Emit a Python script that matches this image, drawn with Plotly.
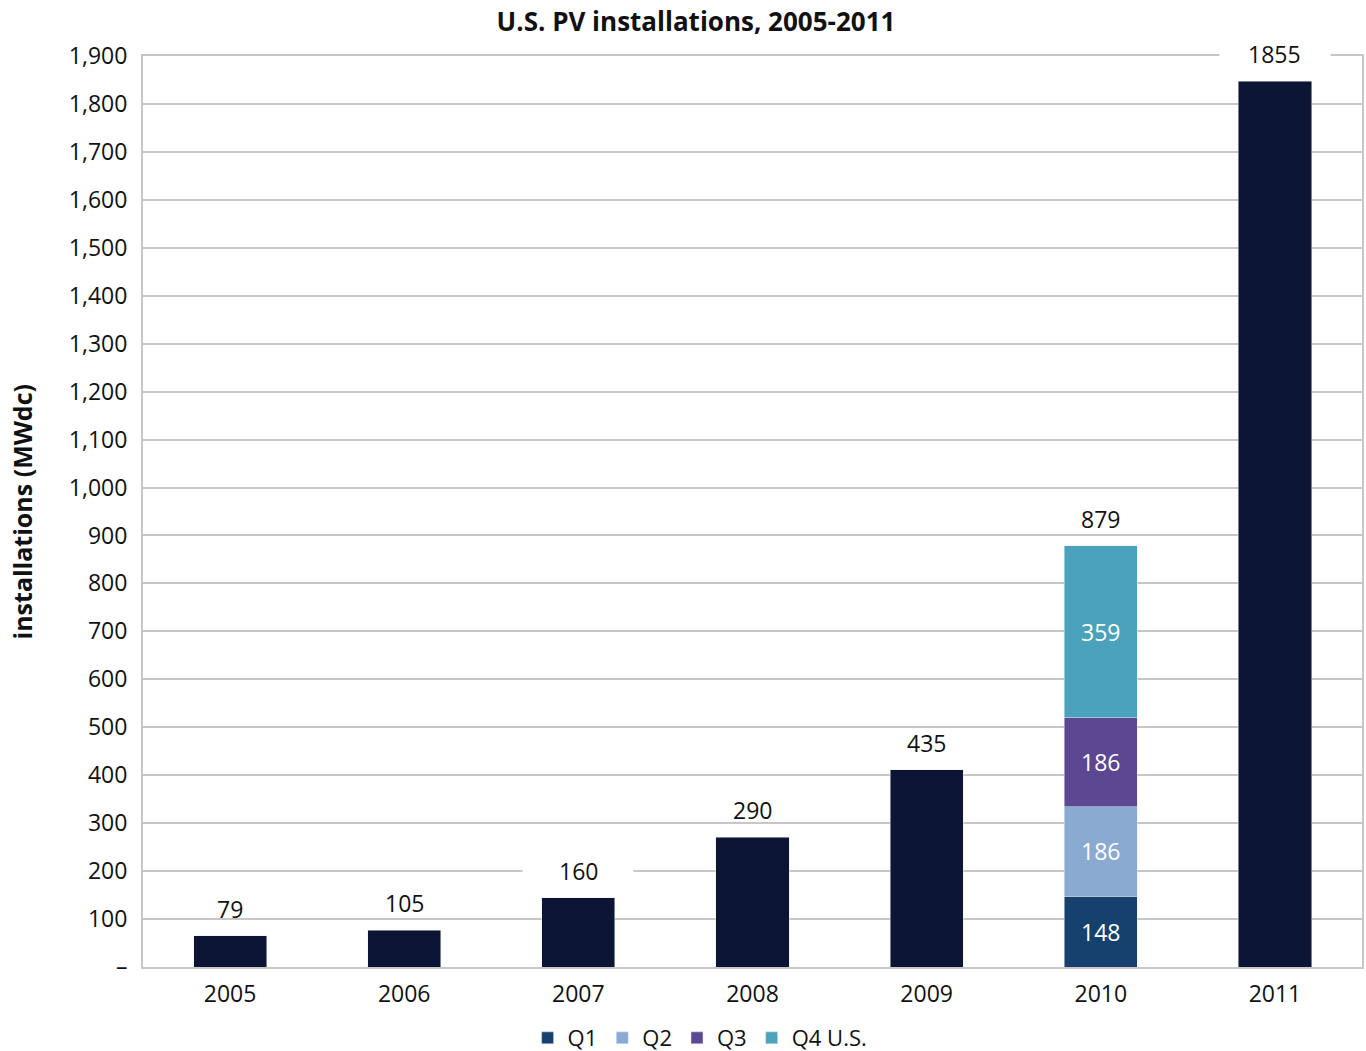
import plotly.graph_objects as go

# ---- data ----
years = ["2005", "2006", "2007", "2008", "2009", "2010", "2011"]
annual_bar = [65, 77, 144, 271, 411, None, 1847]          # bar heights as drawn
annual_labels = ["79", "105", "160", "290", "435", "879", "1855"]  # printed totals
quarter_names = ["Q1", "Q2", "Q3", "Q4 U.S."]
quarters_2010 = [148, 186, 186, 359]
quarter_colors = ["#16416f", "#8aaad2", "#5c4792", "#4aa3bb"]
annual_color = "#0d1535"
y_tickvals = list(range(0, 2000, 100))
y_ticktext = ["–"] + [f"{v:,}" for v in range(100, 2000, 100)]

FONT = "Open Sans"
GRID = "#cac6c6"
TXT = "#111111"
FS = 23

fig = go.Figure()
fig.add_trace(go.Bar(x=years, y=annual_bar, marker_color=annual_color,
                     showlegend=False, hoverinfo="x+y"))
for name, val, col in zip(quarter_names, quarters_2010, quarter_colors):
    fig.add_trace(go.Bar(x=["2010"], y=[val], name=name, marker_color=col,
                         text=[str(val)], textposition="inside",
                         insidetextanchor="middle",
                         textfont=dict(color="white", size=FS, family=FONT)))

# top labels (x given as category index on the category axis)
total_2010 = sum(quarters_2010)
for i, (h, lab) in enumerate(zip(annual_bar, annual_labels)):
    top = h if h is not None else total_2010
    # thin white mask behind the label (hides gridlines only right behind it)
    fig.add_annotation(x=i, y=top, text=" ", showarrow=False,
                       yanchor="middle", yshift=27, bgcolor="white",
                       width=108, height=10, font=dict(size=4))
    fig.add_annotation(x=i, y=top, text=lab, showarrow=False,
                       yanchor="middle", yshift=27,
                       font=dict(size=FS, family=FONT, color=TXT))

# y axis title
fig.add_annotation(text="<b>installations (MWdc)</b>", textangle=-90,
                   xref="paper", yref="paper", x=-0.0993, y=0.5,
                   xanchor="center", yanchor="middle",
                   showarrow=False, font=dict(size=25, family=FONT, color=TXT))

fig.update_layout(
    barmode="stack",
    bargap=0.58,
    width=1366, height=1051,
    margin=dict(l=143, r=4, t=56, b=84, autoexpand=False),
    paper_bgcolor="white", plot_bgcolor="white",
    font=dict(family=FONT, size=FS, color=TXT),
    title=dict(text="<b>U.S. PV installations, 2005-2011</b>", x=696 / 1366, xanchor="center",
               y=1 - 22 / 1051, yanchor="middle", yref="container",
               font=dict(size=26, family=FONT, color=TXT)),
    legend=dict(orientation="h", x=0.457, xanchor="center", y=-0.078, yanchor="middle",
                font=dict(size=22, family=FONT), itemwidth=30,
                traceorder="normal", bgcolor="rgba(0,0,0,0)"),
    showlegend=True,
)
fig.update_xaxes(type="category", categoryorder="array", categoryarray=years,
                 range=[-0.5, len(years) - 0.5], autorange=False,
                 showline=True, linecolor=GRID, linewidth=2, mirror=True,
                 showgrid=False, ticks="", ticklabelstandoff=5,
                 tickfont=dict(size=FS, family=FONT, color=TXT))
fig.update_yaxes(range=[0, 1900], autorange=False, tickvals=y_tickvals, ticktext=y_ticktext,
                 showline=True, linecolor=GRID, linewidth=2, mirror=True,
                 showgrid=True, gridcolor=GRID, gridwidth=2, zeroline=False,
                 ticks="", ticklabelstandoff=9,
                 tickfont=dict(size=FS, family=FONT, color=TXT))

fig.write_html("out.html", config={"displayModeBar": False},
               post_script="document.body.style.margin='0';")
